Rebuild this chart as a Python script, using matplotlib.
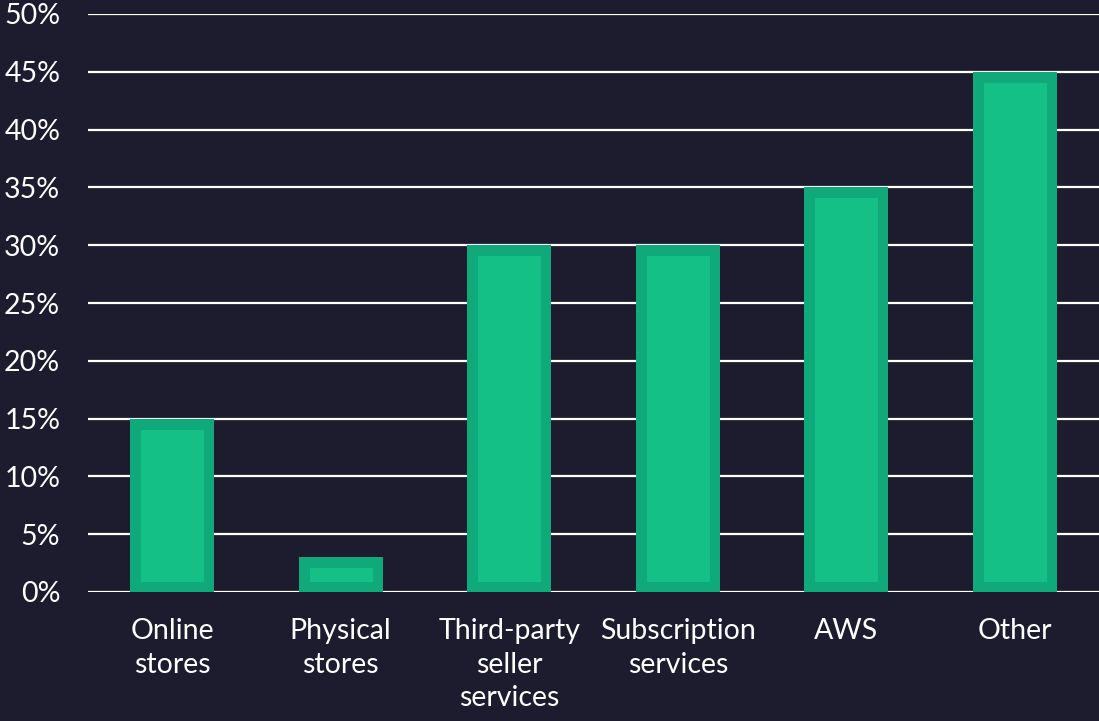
import matplotlib
matplotlib.use("Agg")
import matplotlib.pyplot as plt
from matplotlib.ticker import MultipleLocator, FuncFormatter

categories = ["Online\nstores", "Physical\nstores", "Third-party\nseller\nservices",
              "Subscription\nservices", "AWS", "Other"]
values = [15, 3, 30, 30, 35, 45]

BG = "#1d1b2e"
FILL = "#15c087"
EDGE = "#10a979"

plt.rcParams['font.family'] = ['Lato', 'DejaVu Sans']

fig = plt.figure(figsize=(10.99, 7.21), dpi=100, facecolor=BG)
ax = fig.add_axes([88/1099, 1 - 592/721, 1 - 88/1099, (592-14)/721])
ax.set_facecolor(BG)

x = list(range(len(categories)))
bars = ax.bar(x, values, width=0.5, color=FILL, edgecolor=EDGE, linewidth=15, zorder=3)
for b in bars:
    b.set_clip_path(b)

ax.set_xlim(-0.5, len(categories) - 0.5)
ax.set_ylim(0, 50)
ax.yaxis.set_major_locator(MultipleLocator(5))
ax.yaxis.set_major_formatter(FuncFormatter(lambda v, p: f"{v:.0f}%"))
ax.grid(axis='y', color='white', linewidth=1.6, zorder=0)
ax.set_axisbelow(True)
for s in ax.spines.values():
    s.set_visible(False)
ax.set_xticks(x)
ax.set_xticklabels(categories, linespacing=1.35)
ax.tick_params(axis='both', length=0, colors='white', labelsize=20.5)
ax.tick_params(axis='y', pad=20)
ax.tick_params(axis='x', pad=19)

fig.savefig("out.png", dpi=100, facecolor=BG)
